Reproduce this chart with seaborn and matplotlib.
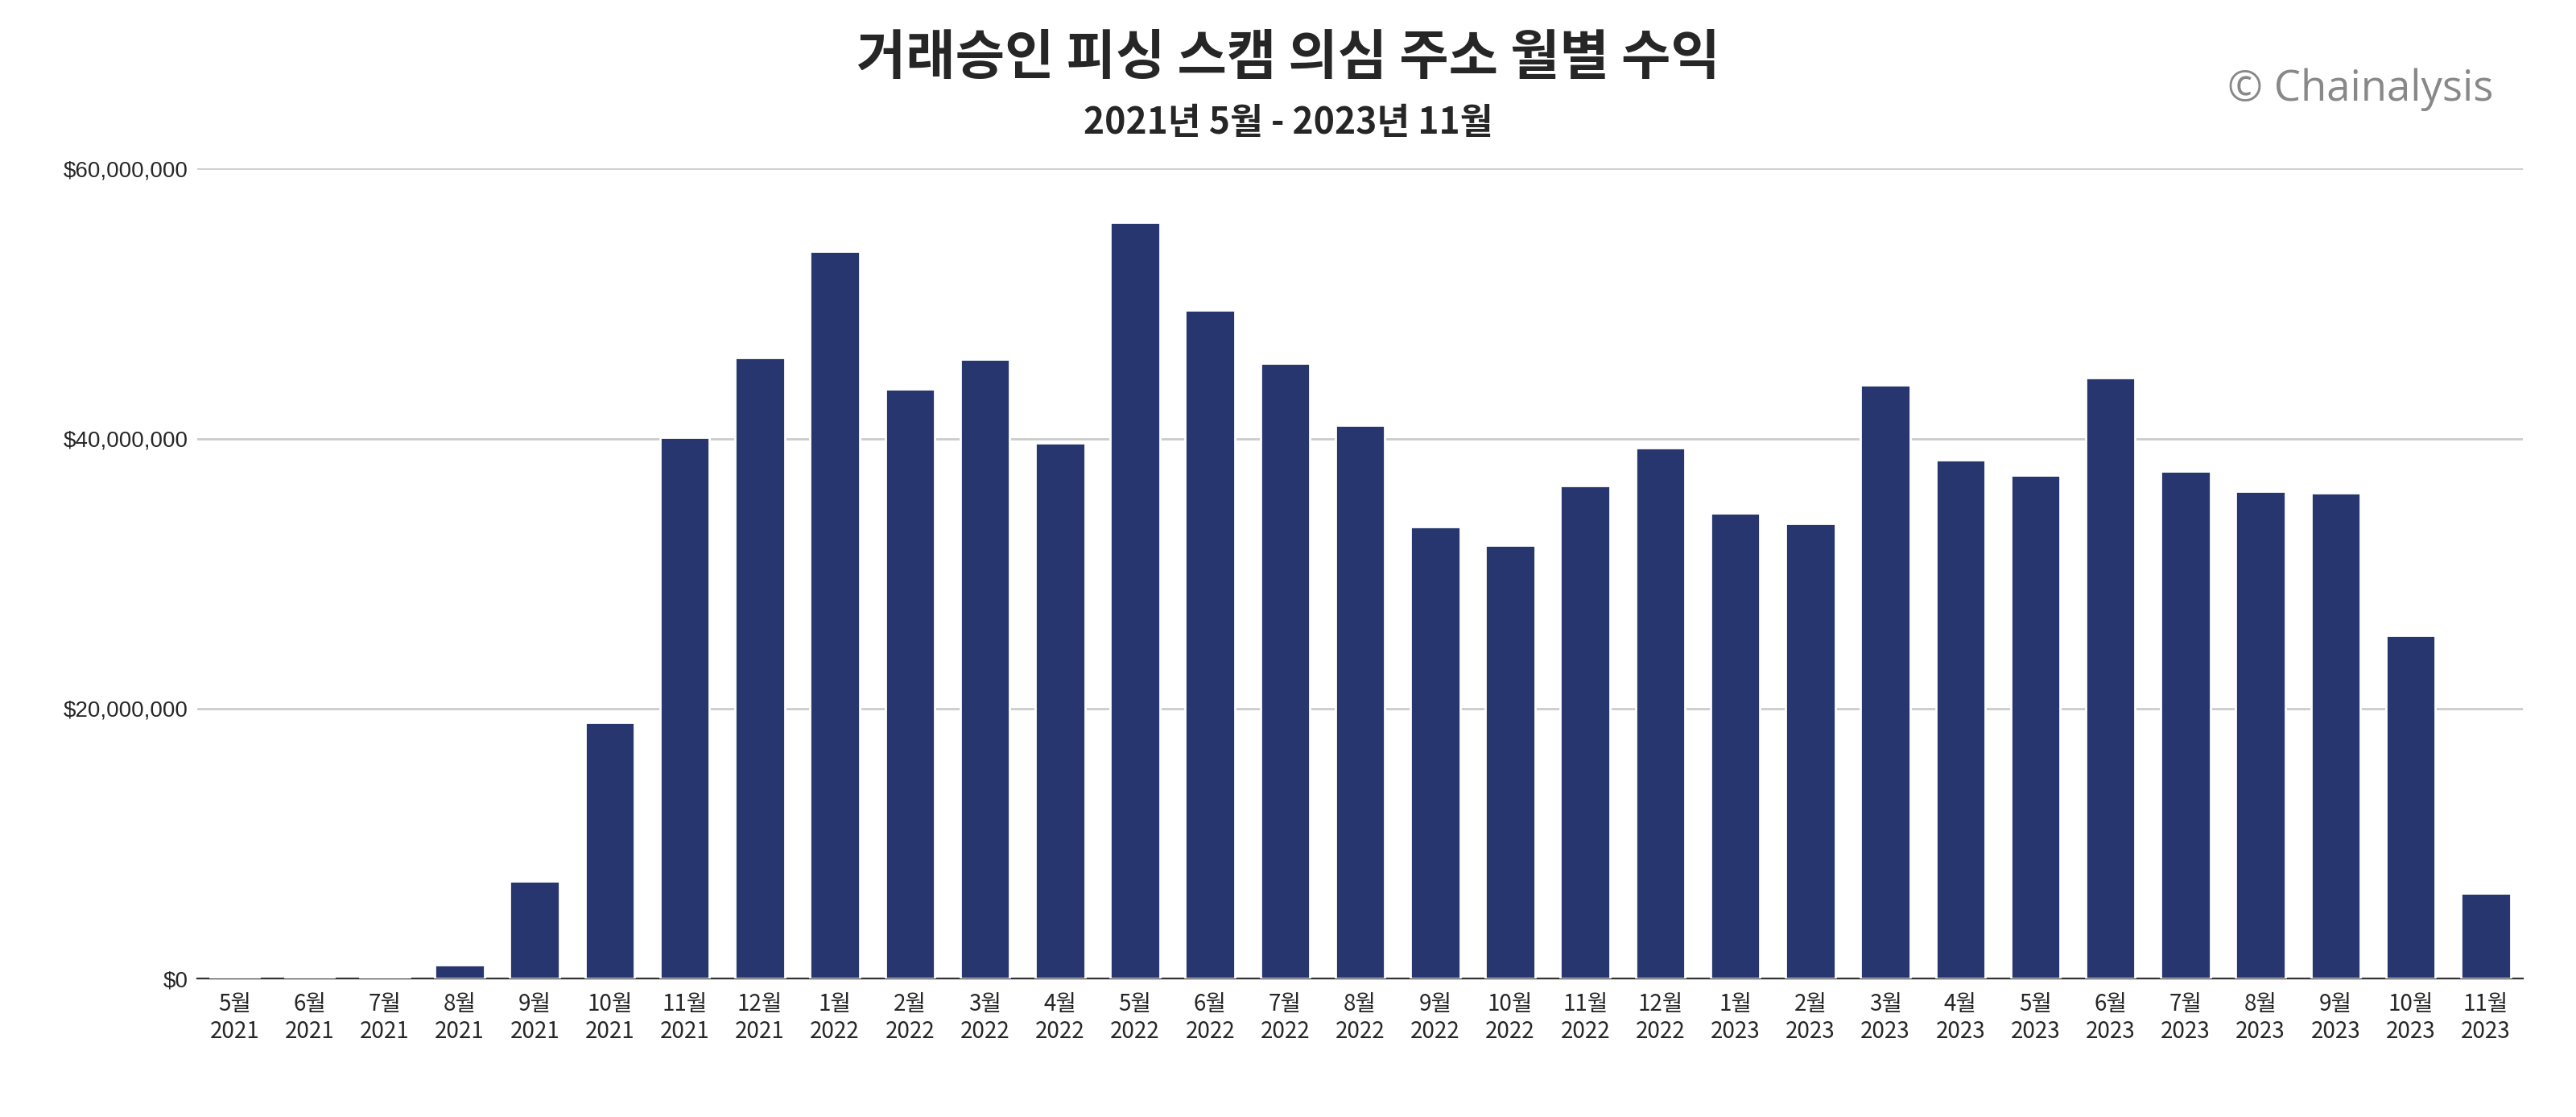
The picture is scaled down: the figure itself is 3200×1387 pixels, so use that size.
import matplotlib
matplotlib.use("Agg")
import matplotlib.pyplot as plt
import seaborn as sns
import pandas as pd

sns.set_style("white")
cjk = ["Noto Sans CJK KR", "Noto Sans CJK JP", "Noto Sans CJK SC", "DejaVu Sans"]
plt.rcParams["font.family"] = "sans-serif"
plt.rcParams["font.sans-serif"] = cjk

months = [5, 6, 7, 8, 9, 10, 11, 12, 1, 2, 3, 4, 5, 6, 7, 8, 9, 10, 11, 12,
          1, 2, 3, 4, 5, 6, 7, 8, 9, 10, 11]
years = [2021] * 8 + [2022] * 12 + [2023] * 11
revenue = [0.05, 0.05, 0.1, 1.0, 7.2, 19.0, 40.1, 46.0, 53.9, 43.7, 45.9, 39.7,
           56.0, 49.5, 45.6, 41.0, 33.5, 32.1, 36.5, 39.3, 34.5, 33.7, 44.0, 38.4,
           37.3, 44.5, 37.6, 36.1, 36.0, 25.4, 6.3]  # millions USD

labels = [f"{m}월\n{y}" for m, y in zip(months, years)]
df = pd.DataFrame({"label": labels, "value": [v * 1e6 for v in revenue]})

fig = plt.figure(figsize=(16, 6.935), dpi=200)
ax = fig.add_axes([0.0765, 0.124, 0.903, 0.725])

sns.barplot(data=df, x="label", y="value", color="#27366f", width=0.66,
            saturation=1, ax=ax, zorder=3)

ax.set_ylim(0, 60e6)
ax.set_yticks([0, 20e6, 40e6, 60e6])
ax.set_yticklabels(["$0", "$20,000,000", "$40,000,000", "$60,000,000"],
                   fontfamily="Liberation Sans", fontsize=10)
ax.yaxis.grid(True, color="#cccccc", linewidth=1, zorder=0)
ax.tick_params(axis="x", labelsize=10, length=0, pad=6)
for t in ax.get_xticklabels():
    t.set_fontfamily(cjk)
ax.tick_params(axis="y", length=0, pad=4)
ax.set_xlabel("")
ax.set_ylabel("")
ax.set_xlim(-0.5, len(labels) - 0.5)
for s in ["top", "right", "left"]:
    ax.spines[s].set_visible(False)
ax.spines["bottom"].set_color("#333333")

fig.text(0.5, 0.948, "거래승인 피싱 스캠 의심 주소 월별 수익", ha="center", va="center",
         fontsize=24, fontweight="heavy", fontfamily=cjk)
fig.text(0.5, 0.89, "2021년 5월 - 2023년 11월", ha="center", va="center",
         fontsize=16, fontweight="bold", fontfamily=cjk)
fig.text(0.968, 0.92, "© Chainalysis", ha="right", va="center",
         fontsize=19, color="#888888", fontfamily="Open Sans")

fig.savefig("out.png", dpi=200)
